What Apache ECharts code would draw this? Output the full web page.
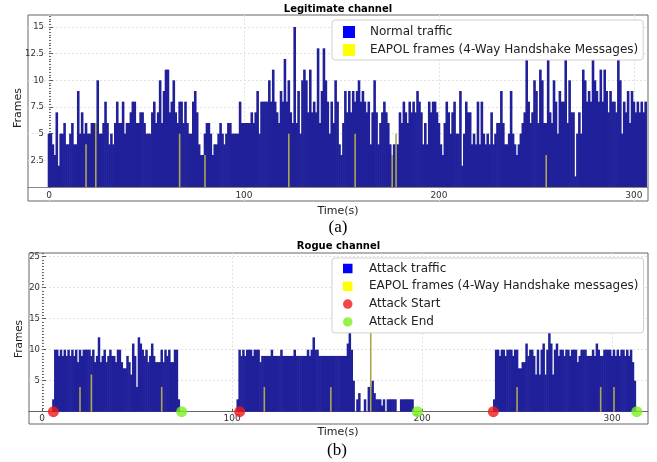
<!DOCTYPE html>
<html><head><meta charset="utf-8">
<script src="https://cdn.jsdelivr.net/npm/echarts@6/dist/echarts.min.js"></script>
<style>html,body{margin:0;padding:0;background:#fff}#c{width:657px;height:462px}</style>
</head><body><div id="c"></div>
<script>
// ---------- DATA ----------
// Legitimate channel: frames per second, t = 0..306
const legitValues = [
 5,5,4,3,7,2,5,5,6,4, 4,5,6,4,4,9,5,7,5,6, 5,5,6,6,6,10,5,5,6,8, 6,4,5,4,6,8,6,6,8,5,
 6,6,7,8,8,6,6,7,7,6, 5,5,5,7,8,6,7,10,6,9, 11,11,7,8,10,7,6,8,8,6, 8,6,5,5,8,9,7,4,3,3,
 5,6,6,5,3,4,4,5,6,5, 4,5,6,6,5,5,5,5,8,6, 6,6,6,6,7,6,7,9,5,8, 8,8,8,10,8,11,8,7,6,9,
 8,12,8,10,7,6,15,6,9,5, 10,11,10,7,11,7,8,7,13,6, 9,13,10,8,5,8,6,10,8,4, 3,6,9,7,9,7,9,8,9,10,
 8,9,8,7,8,4,7,10,7,4, 6,7,8,7,6,4,3,4,4,4, 7,6,8,7,6,8,7,8,7,9, 8,7,4,6,4,8,7,8,8,7,
 6,4,3,6,8,7,5,7,8,5, 5,9,2,5,8,7,7,4,5,4, 8,4,8,5,4,5,4,7,4,5, 6,6,9,6,4,4,5,9,5,4,
 3,4,5,6,7,12,8,6,7,10, 9,6,11,10,6,6,12,7,6,10, 8,5,9,8,8,12,6,10,7,7, 1,5,7,5,11,10,8,9,8,12,
 10,9,8,11,8,11,9,7,9,8, 8,7,12,10,5,8,7,9,6,9, 8,7,8,7,8,7,8
];
const legitEapolTimes  = [19, 24, 67, 80, 123, 157, 176, 178, 255];
const legitEapolValues = [4, 6, 5, 3, 5, 5, 3, 5, 3];

// Rogue channel: attack frames per second, t = 0..312
const rogueValues = [
 0,0,0,0,0,0,2,
 10,10,9,10,9,10,9,10,9,10, 9,10,8,10,9,10,10,10,10,9, 10,8,9,12,8,9,10,8,9,10,
 9,9,8,10,10,8,7,7,9,8, 6,11,9,4,12,11,10,9,10,8, 9,11,9,8,8,8,10,8,10,9, 10,8,8,10,10,2,
 0,0,0,0,0,0,0,0,0,0, 0,0,0,0,0,0,0,0,0,0, 0,0,0,0,0,0,0,0,0,0,
 2,
 10,9,10,9,10,10,10,9,10,10, 10,8,9,9,9,9,9,10,9,9, 9,9,10,9,9,9,9,9,9,10,
 9,9,9,9,9,9,10,9,10,12, 10,10,9,9,9,9,9,9,9,9, 9,9,9,9,9,9,9,11,13,10,
 5,0,2,3,0,0,2,0,4,4, 5,3,2,2,2,1,2,0,2,2, 2,2,2,0,0,2,2,2,2,2,2,2,
 0,0,0,0,0,0,0,0,0,0, 0,0,0,0,0,0,0,0,0,0, 0,0,0,0,0,0,0,0,0,0, 0,0,0,0,0,0,0,0,0,0, 0,0,
 2,10,10,9,10,10,9,10,10,10,9,10,10,7,7,8,8,11,9,10,10,9,6,10,6,10,11,6,10,13,11,6,10,11,9,10,10,9,10,10,
 9,10,10,10,8,9,10,10,10,9,9,9,10,9,11,10,9,9,10,10,10,10,9,10,9,10,9,10,10,9,10,9,10,8,5
];
const rogueEapolTimes  = [20, 26, 63, 117, 152, 173, 250, 294, 301];
const rogueEapolValues = [4, 6, 4, 4, 4, 13, 4, 4, 4];
const attackStartTimes = [6, 104, 237.5];
const attackEndTimes   = [73.5, 197.5, 313];

const legitXTicks = [0, 100, 200, 300];
const legitYTicks = [2.5, 5, 7.5, 10, 12.5, 15];
const rogueXTicks = [0, 100, 200, 300];
const rogueYTicks = [5, 10, 15, 20, 25];

const legitNames = ['Normal traffic', 'EAPOL frames (4-Way Handshake Messages)'];
const rogueNames = ['Attack traffic', 'EAPOL frames (4-Way Handshake messages)', 'Attack Start', 'Attack End'];

// ---------- BUILD ----------
const FONT = 'DejaVu Sans';
const BLUE = '#20209a', EAPOL = '#aca650', RED = '#f01818', GREEN = '#7cf020';
const legitMinor = []; for (let v = 0; v <= 16; v += 0.25) legitMinor.push(v);
const rogueMinor = []; for (let v = 0; v <= 25.5; v += 0.5) rogueMinor.push(v);

const pairs = (xs, ys) => xs.map((x, i) => [x, ys[i]]);
const legitData = legitValues.map((v, i) => [i, v]);
const rogueData = rogueValues.map((v, i) => [i, v]);

const LX = [-10.77, 307.2], LY = [-1.31, 16.12];
const RX = [-6.84, 318.9], RY = [-1.98, 25.6];
const splitStyle = {show: true, lineStyle: {color: '#e2e2e2', width: 1, type: [2, 2]}};

function mainX(grid, ext, ticks, lineColor) {
  return {gridIndex: grid, type: 'value', min: ext[0], max: ext[1],
    axisLine: {show: true, onZero: true, lineStyle: {color: lineColor, width: 1}},
    axisTick: {show: true, inside: true, length: 3, customValues: ticks, lineStyle: {color: '#555'}},
    axisLabel: {customValues: ticks, fontFamily: FONT, fontSize: 9, color: '#333', margin: -10},
    splitLine: splitStyle};
}
function overlayX(grid, ext) {
  return {gridIndex: grid, type: 'value', min: ext[0], max: ext[1], show: false,
    axisLine: {onZero: true}, splitLine: {show: false}};
}
function mainY(grid, ext, ticks, margin) {
  return {gridIndex: grid, type: 'value', min: ext[0], max: ext[1], position: 'left',
    axisLine: {show: false, onZero: true},
    axisTick: {show: true, inside: true, length: 4, customValues: ticks, lineStyle: {color: '#555'}},
    axisLabel: {customValues: ticks, fontFamily: FONT, fontSize: 8.5, color: '#333', margin: margin, align: 'right'},
    splitLine: splitStyle};
}
function minorY(grid, ext, ticks) {
  return {gridIndex: grid, type: 'value', min: ext[0], max: ext[1], position: 'right',
    axisLine: {show: false, onZero: true},
    axisTick: {show: true, inside: false, length: 2, customValues: ticks, lineStyle: {color: '#666'}},
    axisLabel: {show: false}, splitLine: {show: false}};
}

const legendBase = {orient: 'vertical', selectedMode: false, z: 10,
  backgroundColor: 'rgba(255,255,255,0.97)', borderColor: '#d0d0d0', borderWidth: 1, borderRadius: 3,
  textStyle: {fontFamily: FONT, fontSize: 12, color: '#222', lineHeight: 14}};
const SQ = 'path://M0,0H10V10H0Z';

const option = {
  animation: false,
  backgroundColor: '#fff',
  grid: [
    {left: 28, top: 15, width: 620, height: 186, show: true, borderColor: '#666', borderWidth: 1, backgroundColor: 'transparent'},
    {left: 29, top: 253, width: 619, height: 171, show: true, borderColor: '#666', borderWidth: 1, backgroundColor: 'transparent'}
  ],
  xAxis: [mainX(0, LX, legitXTicks, '#888'), overlayX(0, LX), mainX(1, RX, rogueXTicks, '#666'), overlayX(1, RX)],
  yAxis: [mainY(0, LY, legitYTicks, -16), minorY(0, LY, legitMinor), mainY(1, RY, rogueYTicks, -11), minorY(1, RY, rogueMinor)],
  legend: [
    Object.assign({}, legendBase, {left: 332, top: 20, padding: [5, 5, 3, 11], itemWidth: 12, itemHeight: 12, itemGap: 4,
      textStyle: Object.assign({}, legendBase.textStyle, {padding: [0, 0, 0, 10]}),
      data: [
        {name: legitNames[0], icon: SQ, itemStyle: {color: '#0000ff'}},
        {name: legitNames[1], icon: SQ, itemStyle: {color: '#ffff00'}}
      ]}),
    Object.assign({}, legendBase, {left: 332, top: 258, padding: [3.5, 5, 4, 11], itemWidth: 9.5, itemHeight: 9.5, itemGap: 3.8,
      textStyle: Object.assign({}, legendBase.textStyle, {padding: [0, 0, 0, 11.5]}),
      data: [
        {name: rogueNames[0], icon: SQ, itemStyle: {color: '#0000ff'}},
        {name: rogueNames[1], icon: SQ, itemStyle: {color: '#ffff00'}},
        {name: rogueNames[2], icon: 'circle', itemStyle: {color: RED}},
        {name: rogueNames[3], icon: 'circle', itemStyle: {color: GREEN}}
      ]})
  ],
  series: [
    {name: legitNames[0], type: 'bar', xAxisIndex: 0, yAxisIndex: 0, data: legitData, barWidth: 2.6,
      itemStyle: {color: BLUE}, z: 2},
    {name: legitNames[1], type: 'bar', xAxisIndex: 1, yAxisIndex: 0, data: pairs(legitEapolTimes, legitEapolValues),
      barWidth: 1.6, itemStyle: {color: EAPOL}, z: 3},
    {name: rogueNames[0], type: 'bar', xAxisIndex: 2, yAxisIndex: 2, data: rogueData, barWidth: 2.5,
      itemStyle: {color: BLUE}, z: 2},
    {name: rogueNames[1], type: 'bar', xAxisIndex: 3, yAxisIndex: 2, data: pairs(rogueEapolTimes, rogueEapolValues),
      barWidth: 1.6, itemStyle: {color: EAPOL}, z: 3},
    {name: rogueNames[2], type: 'scatter', xAxisIndex: 2, yAxisIndex: 2, data: attackStartTimes.map(t => [t, 0]),
      symbolSize: 11, itemStyle: {color: RED}, z: 5},
    {name: rogueNames[3], type: 'scatter', xAxisIndex: 2, yAxisIndex: 2, data: attackEndTimes.map(t => [t, 0]),
      symbolSize: 11, itemStyle: {color: GREEN}, z: 5}
  ],
  graphic: [
    {type: 'text', x: 338, y: 9, style: {text: 'Legitimate channel', font: 'bold 10px "DejaVu Sans"', fill: '#000', align: 'center', verticalAlign: 'middle', textAlign: 'center', textVerticalAlign: 'middle'}},
    {type: 'text', x: 18, y: 108, rotation: Math.PI / 2, style: {text: 'Frames', font: '11px "DejaVu Sans"', fill: '#222', align: 'center', verticalAlign: 'middle', textAlign: 'center', textVerticalAlign: 'middle'}},
    {type: 'text', x: 338, y: 211, style: {text: 'Time(s)', font: '11px "DejaVu Sans"', fill: '#222', align: 'center', verticalAlign: 'middle', textAlign: 'center', textVerticalAlign: 'middle'}},
    {type: 'text', x: 338, y: 228, style: {text: '(a)', font: '17px "Liberation Serif"', fill: '#000', align: 'center', verticalAlign: 'middle', textAlign: 'center', textVerticalAlign: 'middle'}},
    {type: 'text', x: 338.5, y: 246.5, style: {text: 'Rogue channel', font: 'bold 10px "DejaVu Sans"', fill: '#000', align: 'center', verticalAlign: 'middle', textAlign: 'center', textVerticalAlign: 'middle'}},
    {type: 'text', x: 19, y: 339, rotation: Math.PI / 2, style: {text: 'Frames', font: '10.5px "DejaVu Sans"', fill: '#222', align: 'center', verticalAlign: 'middle', textAlign: 'center', textVerticalAlign: 'middle'}},
    {type: 'text', x: 338, y: 432.5, style: {text: 'Time(s)', font: '11px "DejaVu Sans"', fill: '#222', align: 'center', verticalAlign: 'middle', textAlign: 'center', textVerticalAlign: 'middle'}},
    {type: 'text', x: 337, y: 450.5, style: {text: '(b)', font: '17px "Liberation Serif"', fill: '#000', align: 'center', verticalAlign: 'middle', textAlign: 'center', textVerticalAlign: 'middle'}}
  ]
};
const chart = echarts.init(document.getElementById('c'), null, {renderer: 'canvas'});
chart.setOption(option);
</script></body></html>
